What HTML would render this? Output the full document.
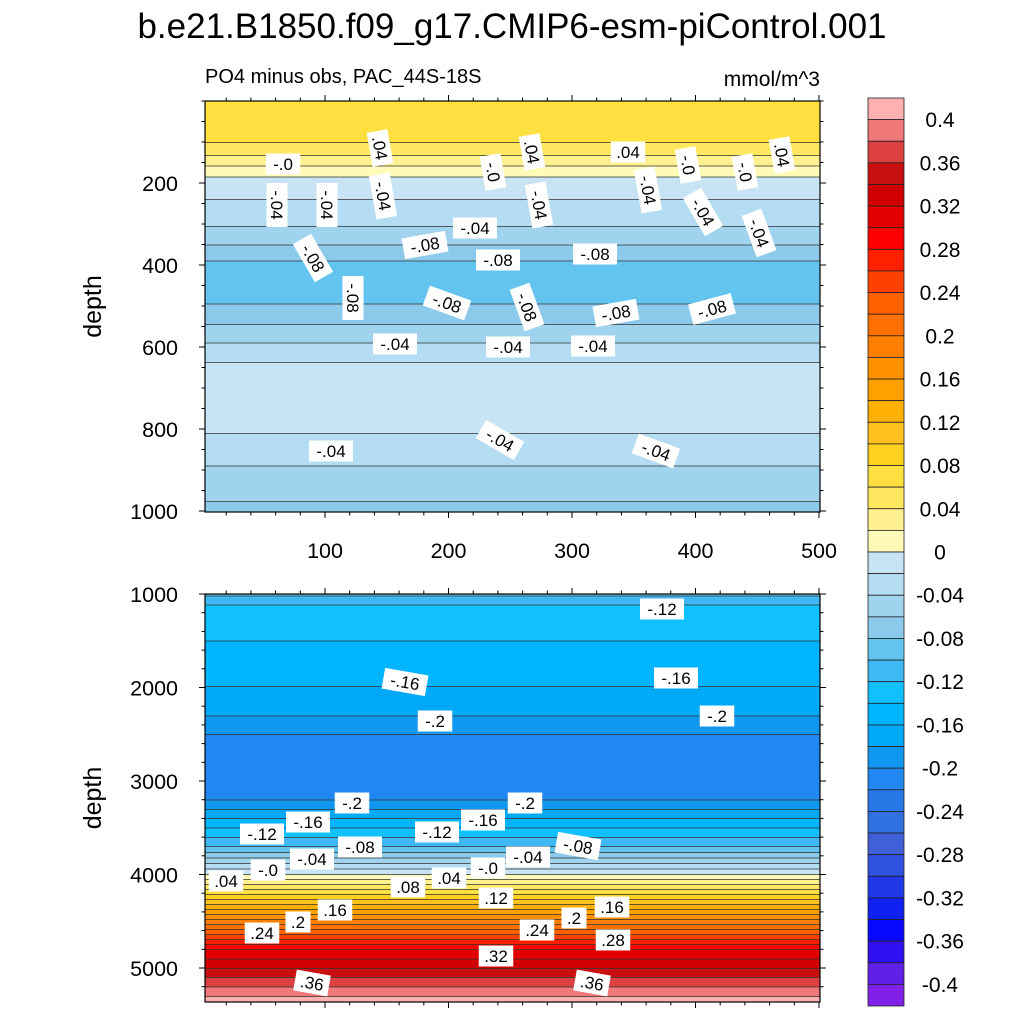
<!DOCTYPE html>
<html><head><meta charset="utf-8">
<style>
body{margin:0;background:#fff;}
svg{display:block;font-family:"Liberation Sans",sans-serif;}
</style></head>
<body>
<svg id="chart" width="1024" height="1024" viewBox="0 0 1024 1024" xmlns="http://www.w3.org/2000/svg">
<rect width="1024" height="1024" fill="#fff"/>
<text x="512" y="38" font-size="35" text-anchor="middle">b.e21.B1850.f09_g17.CMIP6-esm-piControl.001</text>
<text x="205" y="83" font-size="20">PO4 minus obs, PAC_44S-18S</text>
<text x="820" y="86" font-size="21" text-anchor="end">mmol/m^3</text>
<g id="top"></g>
<g id="bot"></g>
<g id="cbar"></g>
<g id="labels"></g>
</svg>
<script>
// Color levels (0.02 steps), from highest to lowest
const posColors = ["#ffb0b0","#f07878","#dc4040","#c81010","#d00000","#e40000","#ff0000","#ff2000","#ff4000","#ff6000","#ff7000","#ff8000","#ff9000","#ffa000","#ffb000","#ffc020","#ffd020","#ffe040","#ffe860","#fff090","#fffab8"];
const negColors = ["#c8e4f4","#b4dcf2","#a0d4ee","#8ccaec","#64c4f0","#40b8f4","#10c0ff","#00b4ff","#00a8f8","#1098f0","#2088f0","#2878e8","#3070e0","#4060d8","#3050e0","#2038e8","#1020f0","#0808ff","#3010f0","#6020e8","#8020e8"];
const cbarLabels = ["0.4","0.36","0.32","0.28","0.24","0.2","0.16","0.12","0.08","0.04","0","-0.04","-0.08","-0.12","-0.16","-0.2","-0.24","-0.28","-0.32","-0.36","-0.4"];
// Top panel depth profile
const topDepths = [0,60,100,140,170,200,260,320,370,400,440,470,520,570,610,650,720,790,850,930,1000];
const topValues = [0.065,0.068,0.06,0.035,0.01,-0.01,-0.025,-0.045,-0.07,-0.085,-0.1,-0.09,-0.07,-0.05,-0.03,-0.015,-0.005,-0.015,-0.03,-0.05,-0.065];
// Bottom panel depth profile
const botDepths = [1000,1080,1150,1480,1520,1950,2000,2300,2500,2550,3100,3200,3700,4000,4400,4800,5100,5300,5365];
const botValues = [-0.095,-0.115,-0.125,-0.138,-0.142,-0.155,-0.162,-0.18,-0.2,-0.205,-0.21,-0.2,-0.1,0.0,0.15,0.3,0.36,0.4,0.42];
const topYTicks = [200,400,600,800,1000];
const botYTicks = [1000,2000,3000,4000,5000];
const xTicks = [100,200,300,400,500];

const NS="http://www.w3.org/2000/svg";
function mk(tag,attrs,parent){const e=document.createElementNS(NS,tag);for(const k in attrs)e.setAttribute(k,attrs[k]);parent.appendChild(e);return e;}
function interp(ds,vs,d){if(d<=ds[0])return vs[0];for(let i=1;i<ds.length;i++){if(d<=ds[i]){const t=(d-ds[i-1])/(ds[i]-ds[i-1]);return vs[i-1]+t*(vs[i]-vs[i-1]);}}return vs[vs.length-1];}
function levelOf(v){return Math.floor(v/0.02);}
function colorOf(lv){ if(lv>=0){const i=20-lv;return posColors[Math.max(0,Math.min(20,i))];} else {const i=-lv-1;return negColors[Math.max(0,Math.min(20,i))];}}

const X0=205,X1=820;
function xScale(v){return 201.5+v*1.235;}

function panel(g,name,ds,vs,y0,y1,yScale,dMin,yTicks,minorStep,xLabels){
  let rowStart=y0,cur=levelOf(interp(ds,vs,dMin));
  const bands=[];
  for(let y=y0;y<=y1;y+=0.5){
    const d=dMin+(y-y0)/yScale;
    const lv=levelOf(interp(ds,vs,d));
    if(lv!==cur||y>=y1){bands.push([rowStart,y,cur]);rowStart=y;cur=lv;}
  }
  bands.forEach((b,i)=>{
    const r=mk('rect',{x:X0,y:b[0],width:X1-X0,height:b[1]-b[0]+0.5,fill:colorOf(b[2])},g);
    
    
    if(i>0){const l=mk('line',{x1:X0,x2:X1,y1:b[0],y2:b[0],stroke:'#333','stroke-width':0.8},g);
      
      }
  });
  const fr=mk('rect',{x:X0,y:y0,width:X1-X0,height:y1-y0,fill:'none',stroke:'#000','stroke-width':1.2},g);
  
  
  for(let d=dMin;d<=dMin+(y1-y0)/yScale+0.1;d+=minorStep){
    const y=y0+(d-dMin)*yScale; if(y>y1+0.5)break;
    const major=yTicks.includes(Math.round(d));
    mk('line',{x1:X0-(major?6:3.5),x2:X0,y1:y,y2:y,stroke:'#000','stroke-width':1},g);
    mk('line',{x1:X1,x2:X1+(major?6:3.5),y1:y,y2:y,stroke:'#000','stroke-width':1},g);
  }
  yTicks.forEach(t=>{const y=y0+(t-dMin)*yScale;
    const tx=mk('text',{x:X0-27,y:y+8,'font-size':21.5,'text-anchor':'end'},g);tx.textContent=t;
    
    });
  for(let v=0;v<=500;v+=20){const x=xScale(v);if(x<X0)continue;const major=v%100===0;
    mk('line',{x1:x,x2:x,y1:y0-(major?6:3.5),y2:y0,stroke:'#000','stroke-width':1},g);
    mk('line',{x1:x,x2:x,y1:y1,y2:y1+(major?6:3.5),stroke:'#000','stroke-width':1},g);}
  if(xLabels){xTicks.forEach(t=>{const tx=mk('text',{x:xScale(t),y:y1+46,'font-size':21.5,'text-anchor':'middle'},g);tx.textContent=t;
    
    });}
  const yt=mk('text',{x:0,y:0,'font-size':25,'text-anchor':'middle',transform:`translate(101,${(y0+y1)/2}) rotate(-90)`},g);
  yt.textContent='depth';
  
  
}
panel(document.getElementById('top'),'top',topDepths,topValues,101,512,0.41,0,topYTicks,50,true);
panel(document.getElementById('bot'),'bottom',botDepths,botValues,594,1002,0.0935,1000,botYTicks,200,false);

const cb=document.getElementById('cbar');
const allC=posColors.concat(negColors);const bh=(1006-98)/42;
allC.forEach((c,i)=>{const r=mk('rect',{x:868,y:98+i*bh,width:36,height:bh,fill:c,stroke:'#222','stroke-width':0.8},cb);
  
  });
cbarLabels.forEach((s,i)=>{const y=98+bh*(1+2*i);const t=mk('text',{x:940,y:y+7.5,'font-size':21,'text-anchor':'middle'},cb);t.textContent=s;
  
  });

const labs=[["-.0",283,164,0],[".04",380,148,80],["-.0",493,172,80],[".04",532,152,80],[".04",628,152,0],["-.0",688,165,80],["-.0",745,172,80],[".04",782,155,80],
["-.04",277,205,90],["-.04",327,205,90],["-.04",383,196,80],["-.04",539,205,80],["-.04",648,190,80],["-.04",703,212,60],["-.04",759,233,70],["-.04",475,228,0],
["-.08",313,258,60],["-.08",425,245,-10],["-.08",498,260,0],["-.08",595,254,0],["-.08",353,298,90],["-.08",447,303,20],["-.08",527,307,70],["-.08",616,313,-10],["-.08",712,309,-15],
["-.04",395,344,0],["-.04",508,347,0],["-.04",593,346,0],["-.04",331,451,0],["-.04",500,440,30],["-.04",656,451,20],
["-.12",662,609,0],["-.16",405,682,10],["-.16",676,678,0],["-.2",435,721,0],["-.2",717,716,0],
["-.2",352,803,0],["-.2",525,803,0],["-.16",308,822,0],["-.16",483,820,0],["-.12",262,834,0],["-.12",437,832,0],["-.08",360,847,0],["-.08",578,846,10],
["-.04",312,859,0],["-.04",528,857,0],["-.0",268,870,0],["-.0",488,868,0],[".04",226,881,0],[".04",449,878,0],[".08",408,887,0],[".12",496,898,0],
[".16",335,910,0],[".16",612,907,0],[".2",298,922,0],[".2",574,918,0],[".24",262,933,0],[".24",537,930,0],[".28",613,940,0],[".32",496,956,0],[".36",312,983,10],[".36",592,983,10]];
const lg=document.getElementById('labels');
labs.forEach(l=>{const g=mk('g',{transform:`translate(${l[1]},${l[2]}) rotate(${l[3]})`},lg);
  
  
  const w=l[0].length*9.5+6;
  mk('rect',{x:-w/2,y:-10.5,width:w,height:21,fill:'#fff'},g);
  const t=mk('text',{x:0,y:6,'font-size':17,'text-anchor':'middle'},g);t.textContent=l[0];});
</script>
</body></html>
